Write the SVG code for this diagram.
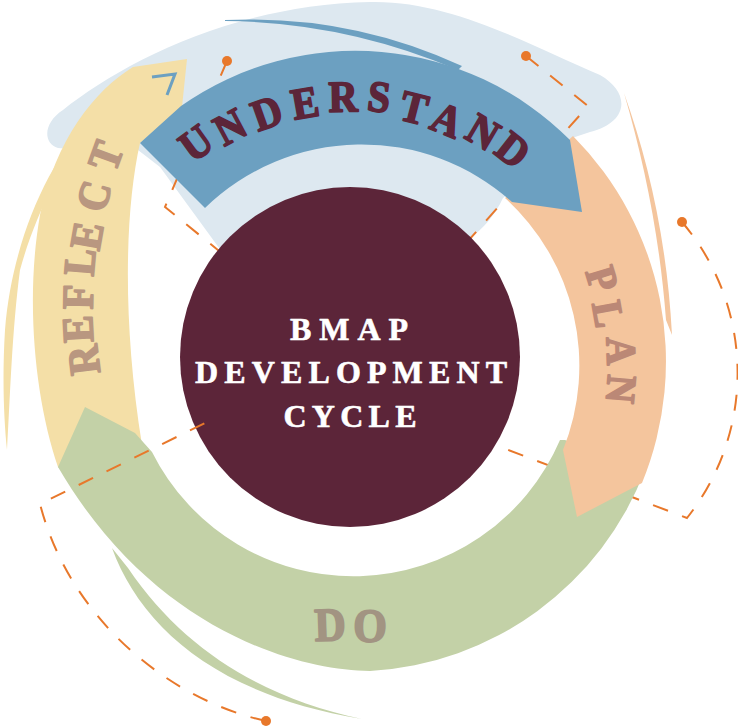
<svg xmlns="http://www.w3.org/2000/svg" width="738" height="727" viewBox="0 0 738 727">
<style>
.dash{fill:none;stroke:#e8782b;stroke-width:2;stroke-dasharray:16 15}
.dot{fill:#e8782b}
.lbl{font-family:"Liberation Serif","DejaVu Serif",serif;font-weight:bold;text-anchor:middle;stroke-linejoin:round}
.u{fill:#5c2539;stroke:#5c2539;stroke-width:1.8;font-size:44px}
.r{fill:#b99780;stroke:#b99780;stroke-width:1.8;font-size:44px}
.p{fill:#bb8876;stroke:#bb8876;stroke-width:1.8;font-size:42px}
.d{fill:#a29482;stroke:#a29482;stroke-width:1.8;font-size:47px}
.c{fill:#ffffff;stroke:#ffffff;stroke-width:0.6;font-size:32px}
</style>
<rect width="738" height="727" fill="#ffffff"/>
<path id="backdrop" fill="#dde8f0" d="M 80,150 L 58,148 C 42,143 44,122 63,110 C 120,65 230,5 370,2 C 450,0 530,45 600,75 C 630,92 630,122 590,132 L 572,138 L 560,155 L 503,198 C 495,215 484,228 468,240 L 400,250 L 300,250 L 222,252 L 160,167 L 138,150 Z"/>
<path fill="#6ca0c1" d="M 225,20 Q 350,14 462,66 L 458,70 Q 345,22 225,21 Z"/>
<g id="connectors">
<g id="dash-a"><path class="dash" d="M 227,61 L 165,207 L 240,268"/><circle class="dot" cx="227" cy="61" r="5"/></g>
<g id="dash-b"><path class="dash" d="M 526,56 L 588,106 L 460,250"/><circle class="dot" cx="526" cy="56" r="5"/></g>
<g id="dash-c"><path class="dash" d="M 682,222 A 233 233 0 0 1 687,518 L 490,443"/><circle class="dot" cx="682" cy="222" r="5"/></g>
</g>
<path fill="#f4dfa7" d="M 88,122 C 50,160 12,240 5,330 C 2,380 4,420 7,450 C 10,400 12,330 20,270 C 35,215 62,165 80,140 Z"/>
<path fill="#f4c59d" d="M 624,93 C 648,160 667,240 672,335 L 666,320 C 660,240 645,165 624,93 Z"/>
<path fill="#c3d1a7" d="M 112,548 C 140,625 215,695 362,719 C 265,698 185,652 128,568 Z"/>
<g id="reflect">
<path fill="#f4dfa7" d="M 145,448 L 68,478 L 58,467 C 35,400 25,300 40,215 C 55,140 95,90 133,67 L 187,59 L 182,107 L 140,143 C 125,210 122,320 142,445 Z"/>
<g class="lbl r">
<text transform="translate(84,360) rotate(-97) scale(0.92,1)" y="14.6">R</text>
<text transform="translate(78,329) rotate(-93) scale(0.92,1)" y="14.6">E</text>
<text transform="translate(78,297) rotate(-89) scale(0.92,1)" y="14.6">F</text>
<text transform="translate(80,262) rotate(-85) scale(0.92,1)" y="14.6">L</text>
<text transform="translate(87,236) rotate(-80) scale(0.92,1)" y="14.6">E</text>
<text transform="translate(94,196) rotate(-75) scale(0.92,1)" y="14.6">C</text>
<text transform="translate(106,156) rotate(-70) scale(0.92,1)" y="14.6">T</text>
</g>
</g>
<g id="do">
<path fill="#c3d1a7" d="M 565,440 L 645,470 A 313 313 0 0 1 370,671 C 290,670 150,625 58,467 L 85,407 L 135,433 L 152,452 A 225 225 0 0 0 560,440 Z"/>
<g class="lbl d">
<text transform="translate(330,625) rotate(-2) scale(0.92,1)" y="15.5">D</text>
<text transform="translate(370,626) rotate(1) scale(0.92,1)" y="15.5">O</text>
</g>
</g>
<g id="plan">
<path fill="#f4c59d" d="M 505,198 L 573,136 A 320 320 0 0 1 642,483 L 577,517 L 563,450 A 226 226 0 0 0 505,198 Z"/>
<g class="lbl p">
<text transform="translate(602,279) rotate(73) scale(0.92,1)" y="13.9">P</text>
<text transform="translate(608,314) rotate(80) scale(0.92,1)" y="13.9">L</text>
<text transform="translate(621,351) rotate(88) scale(0.92,1)" y="13.9">A</text>
<text transform="translate(621,389) rotate(95) scale(0.92,1)" y="13.9">N</text>
</g>
</g>
<g id="understand">
<path fill="#6ca0c1" d="M 140,143 L 181,106 A 303 303 0 0 1 570,140 L 582,212 L 512,202 A 225 225 0 0 0 205,208 Z"/>
<g class="lbl u">
<text transform="translate(196,143) rotate(-36) scale(0.92,1)" y="14.6">U</text>
<text transform="translate(230,127) rotate(-28) scale(0.92,1)" y="14.6">N</text>
<text transform="translate(267,113) rotate(-19.5) scale(0.92,1)" y="14.6">D</text>
<text transform="translate(305,103) rotate(-10) scale(0.92,1)" y="14.6">E</text>
<text transform="translate(343,97) rotate(-1) scale(0.92,1)" y="14.6">R</text>
<text transform="translate(379,97) rotate(6.5) scale(0.92,1)" y="14.6">S</text>
<text transform="translate(414,108) rotate(14.5) scale(0.92,1)" y="14.6">T</text>
<text transform="translate(447,120) rotate(22) scale(0.92,1)" y="14.6">A</text>
<text transform="translate(483,132) rotate(30.5) scale(0.92,1)" y="14.6">N</text>
<text transform="translate(513,150) rotate(38) scale(0.92,1)" y="14.6">D</text>
</g>
</g>
<polyline points="152,77 175,74 167,95" fill="none" stroke="#6ca0c1" stroke-width="3"/>
<g id="centre">
<circle cx="350" cy="357" r="170" fill="#5c2539"/>
<g class="lbl c">
<text x="349" y="340" textLength="118" lengthAdjust="spacing">BMAP</text>
<text x="351" y="383" textLength="312" lengthAdjust="spacing">DEVELOPMENT</text>
<text x="350" y="427" textLength="133" lengthAdjust="spacing">CYCLE</text>
</g>
</g>
<g id="dash-d"><path class="dash" d="M 266,721 C 170,700 70,620 40,504 L 205,423"/><circle class="dot" cx="266" cy="721" r="5"/></g>
</svg>
